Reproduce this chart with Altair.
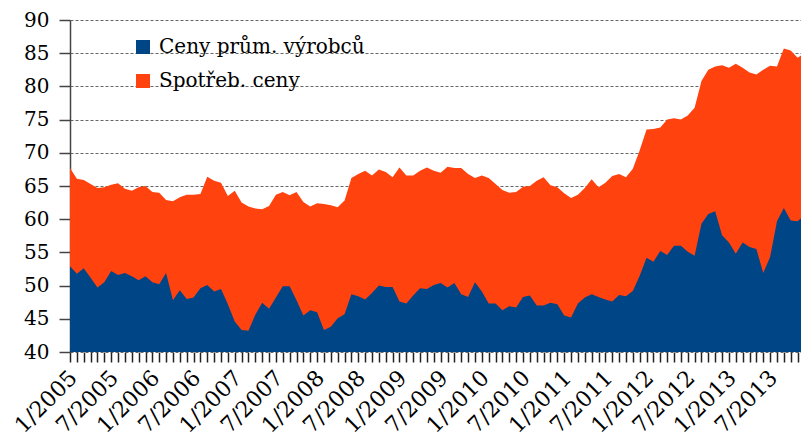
import json
import altair as alt
import pandas as pd

# Monthly series, 1/2005 .. 12/2013
series_names = ["Ceny prům. výrobců", "Spotřeb. ceny"]
series_colors = ["#004586", "#ff420e"]

ppi = [
    52.9, 51.8, 52.6, 51.2, 49.7, 50.5, 52.2, 51.6, 51.9, 51.4,
    50.8, 51.4, 50.5, 50.2, 51.9, 47.8, 49.3, 48.0, 48.2, 49.6,
    50.1, 49.1, 49.5, 47.2, 44.6, 43.3, 43.2, 45.6, 47.4, 46.5,
    48.2, 49.9, 49.9, 47.8, 45.5, 46.3, 46.0, 43.3, 43.8, 45.1,
    45.7, 48.7, 48.4, 47.9, 48.9, 50.0, 49.8, 49.8, 47.6, 47.3,
    48.5, 49.6, 49.5, 50.1, 50.4, 49.7, 50.4, 48.7, 48.3, 50.5,
    49.1, 47.3, 47.3, 46.3, 46.9, 46.7, 48.3, 48.5, 47.0, 47.0,
    47.4, 47.2, 45.5, 45.2, 47.3, 48.2, 48.7, 48.3, 47.9, 47.6,
    48.6, 48.4, 49.2, 51.5, 54.2, 53.6, 55.2, 54.6, 56.0, 56.0,
    55.1, 54.5, 59.3, 60.8, 61.2, 57.6, 56.5, 54.8, 56.5, 55.8,
    55.5, 51.9, 54.3, 59.7, 61.7, 59.8, 59.7, 60.6,
]

cpi = [
    67.7, 66.1, 65.9, 65.3, 64.7, 64.8, 65.2, 65.4, 64.6, 64.3,
    64.8, 65.0, 64.1, 64.0, 62.9, 62.7, 63.3, 63.7, 63.7, 63.8,
    66.4, 65.8, 65.5, 63.5, 64.3, 62.5, 61.9, 61.6, 61.5, 62.0,
    63.7, 64.1, 63.6, 64.1, 62.6, 61.9, 62.4, 62.3, 62.1, 61.8,
    62.8, 66.2, 66.8, 67.3, 66.6, 67.5, 67.1, 66.3, 67.8, 66.6,
    66.6, 67.3, 67.8, 67.3, 67.0, 67.9, 67.7, 67.7, 66.8, 66.2,
    66.6, 66.2, 65.3, 64.4, 64.0, 64.1, 64.9, 65.0, 65.8, 66.3,
    65.1, 64.8, 63.9, 63.2, 63.7, 64.7, 66.0, 64.8, 65.5, 66.5,
    66.8, 66.3, 67.6, 70.4, 73.5, 73.6, 73.8, 75.0, 75.2, 75.0,
    75.6, 76.8, 80.8, 82.5, 83.0, 83.2, 82.8, 83.4, 82.8, 82.1,
    81.8, 82.5, 83.1, 83.0, 85.7, 85.4, 84.3, 85.0,
]

tick_labels = [
    "1/2005", "7/2005", "1/2006", "7/2006", "1/2007", "7/2007",
    "1/2008", "7/2008", "1/2009", "7/2009", "1/2010", "7/2010",
    "1/2011", "7/2011", "1/2012", "7/2012", "1/2013", "7/2013",
]

y_ticks = [40, 45, 50, 55, 60, 65, 70, 75, 80, 85, 90]

month_index = list(range(len(cpi)))

df = pd.DataFrame(
    {
        "m": month_index * 2,
        "value": ppi + cpi,
        "series": [series_names[0]] * len(ppi) + [series_names[1]] * len(cpi),
    }
)

FONT = "DejaVu Serif"

label_expr = (
    "datum.value % 6 == 0 ? "
    + json.dumps(tick_labels)
    + "[datum.value / 6] : ''"
)

x_enc = alt.X(
    "m:Q",
    scale=alt.Scale(domain=[0, 106.5], nice=False, zero=False),
    axis=alt.Axis(
        title=None,
        values=list(range(0, 107)),
        labelExpr=label_expr,
        labelAngle=-45,
        labelAlign="right",
        labelBaseline="middle",
        labelPadding=12,
        labelOffset=3,
        labelFontSize=22,
        labelOverlap=False,
        labelFlush=False,
        labelBound=False,
        tickSize=10,
        tickColor="#222222",
        tickWidth=1.5,
        domain=False,
        grid=False,
    ),
)

y_enc = alt.Y(
    "value:Q",
    scale=alt.Scale(domain=[40, 90], nice=False, zero=False),
    axis=alt.Axis(
        title=None,
        values=y_ticks,
        tickSize=11,
        tickColor="#444444",
        tickWidth=1.5,
        labelPadding=10,
        labelFontSize=20,
        domainColor="#444444",
        domainWidth=1.5,
        grid=True,
        gridColor="#666666",
        gridDash=[3, 2],
        gridWidth=1,
    ),
)

color_enc = alt.Color(
    "series:N",
    scale=alt.Scale(domain=series_names, range=series_colors),
    legend=alt.Legend(
        title=None,
        orient="none",
        legendX=63,
        legendY=17,
        symbolType="square",
        symbolSize=196,
        symbolStrokeWidth=0,
        symbolOpacity=1,
        labelOffset=6,
        labelLimit=0,
        rowPadding=14,
        labelFontSize=20,
        labelFont=FONT,
        labelColor="#000000",
    ),
)

base = alt.Chart(df).mark_area(clip=True, opacity=1, interpolate="linear")

orange = base.transform_filter(
    alt.datum.series == series_names[1]
).encode(x=x_enc, y=y_enc, color=color_enc)

blue = base.transform_filter(
    alt.datum.series == series_names[0]
).encode(x=x_enc, y=y_enc, color=color_enc)

chart = (
    alt.layer(orange, blue)
    .properties(
        width=731,
        height=332,
        autosize=alt.AutoSizeParams(type="none"),
        padding={"left": 62, "top": 12, "right": 0, "bottom": 92},
    )
    .configure_view(stroke="transparent")
    .configure_axis(
        labelFont=FONT,
        labelColor="#000000",
    )
)

chart.save("out.html", embed_options={"renderer": "svg", "actions": False})
